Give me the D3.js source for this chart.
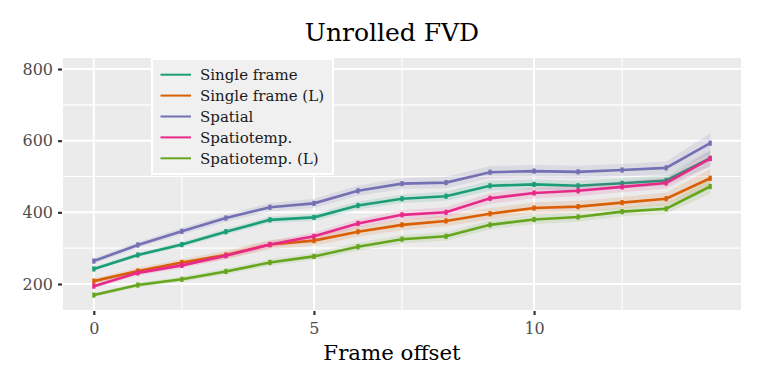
<!DOCTYPE html>
<html>
<head>
<meta charset="utf-8">
<script src="https://cdn.jsdelivr.net/npm/d3@7"></script>
<style>
  body { margin: 0; background: #fff; }
  text { font-family: "DejaVu Serif", serif; }
</style>
</head>
<body>
<div id="chart"></div>
<script>
// frame offsets
var offsets = [0,1,2,3,4,5,6,7,8,9,10,11,12,13,14];

var names = ["Single frame", "Single frame (L)", "Spatial", "Spatiotemp.", "Spatiotemp. (L)"];
var colors = ["#1b9e77", "#d95f02", "#7570b3", "#e7298a", "#66a61e"];

// mean FVD per offset
var singleFrame  = [242,281,310,346,379,386,419,438,445,474,478,474,481,489,551];
var singleFrameL = [208,236,260,281,310,321,346,365,376,396,412,416,427,438,495];
var spatial      = [264,309,347,384,414,425,460,480,483,512,515,513,518,524,593];
var spatioTemp   = [194,231,252,279,310,333,369,393,400,439,454,460,471,482,550];
var spatioTempL  = [169,197,213,235,260,277,304,325,333,365,380,387,402,410,472];

// half width of the shaded band
var errSingleFrame  = [5,6,7,8,9,10,11,12,13,14,14,14,14,15,22];
var errSingleFrameL = [7,9,10,12,13,14,14,15,15,16,16,16,16,17,26];
var errSpatial      = [7,8,9,10,12,13,14,15,16,17,17,17,17,18,28];
var errSpatioTemp   = [6,7,8,9,10,11,12,13,14,15,15,15,15,16,22];
var errSpatioTempL  = [5,6,7,8,9,10,11,12,12,13,13,13,13,14,20];

var xTicks = [0,5,10];
var xMinor = [2,7,12];
var yTicks = [200,400,600,800];
var yMinor = [300,500,700];

var means = [singleFrame, singleFrameL, spatial, spatioTemp, spatioTempL];
var errs = [errSingleFrame, errSingleFrameL, errSpatial, errSpatioTemp, errSpatioTempL];

var W = 763, H = 387,
    margin = {top: 58, right: 22, bottom: 77, left: 63},
    width = W - margin.left - margin.right,
    height = H - margin.top - margin.bottom;

var svg = d3.select("#chart").append("svg").attr("width", W).attr("height", H);
var g = svg.append("g").attr("transform", "translate(" + margin.left + "," + margin.top + ")");

var x = d3.scaleLinear().domain([-0.7, 14.7]).range([0, width]);
var y = d3.scaleLinear().domain([127.4, 830.7]).range([height, 0]);

g.append("rect").attr("width", width).attr("height", height).attr("fill", "#ebebeb");

// grid
g.selectAll(".ymin").data(yMinor).enter().append("line")
  .attr("x1", 0).attr("x2", width).attr("y1", y).attr("y2", y)
  .attr("stroke", "#fff").attr("stroke-width", 1.1);
g.selectAll(".xmin").data(xMinor).enter().append("line")
  .attr("y1", 0).attr("y2", height).attr("x1", x).attr("x2", x)
  .attr("stroke", "#fff").attr("stroke-width", 1.1);
g.selectAll(".ymaj").data(yTicks).enter().append("line")
  .attr("x1", 0).attr("x2", width).attr("y1", y).attr("y2", y)
  .attr("stroke", "#fff").attr("stroke-width", 2);
g.selectAll(".xmaj").data(xTicks).enter().append("line")
  .attr("y1", 0).attr("y2", height).attr("x1", x).attr("x2", x)
  .attr("stroke", "#fff").attr("stroke-width", 2);

// axes
var xAxis = g.append("g")
  .attr("transform", "translate(0," + (height + 1) + ")")
  .call(d3.axisBottom(x).tickValues(xTicks).tickSize(4).tickPadding(8));
var yAxis = g.append("g")
  .attr("transform", "translate(-1,0)")
  .call(d3.axisLeft(y).tickValues(yTicks).tickSize(4).tickPadding(5));
[xAxis, yAxis].forEach(function(a) {
  a.select(".domain").remove();
  a.selectAll("line").attr("stroke", "#333").attr("stroke-width", 2.2);
  a.selectAll("text").attr("fill", "#4d4d4d").style("font-size", "16px")
    .style("font-family", "DejaVu Serif");
});

// bands, lines, markers
var area = d3.area()
  .x(function(d) { return x(d.x); })
  .y0(function(d) { return y(d.y - d.e); })
  .y1(function(d) { return y(d.y + d.e); });
var line = d3.line()
  .x(function(d) { return x(d.x); })
  .y(function(d) { return y(d.y); });

means.forEach(function(m, k) {
  var pts = offsets.map(function(o, i) { return {x: o, y: m[i], e: errs[k][i]}; });
  g.append("path").datum(pts).attr("d", area)
    .attr("fill", colors[k]).attr("fill-opacity", 0.13);
  g.append("path").datum(pts).attr("d", line)
    .attr("fill", "none").attr("stroke", colors[k]).attr("stroke-width", 2.6);
  g.selectAll(".pt" + k).data(pts).enter().append("rect")
    .attr("x", function(d) { return x(d.x) - 1.6; })
    .attr("y", function(d) { return y(d.y) - 2.6; })
    .attr("width", 3.2).attr("height", 5.2)
    .attr("fill", colors[k]);
});

// legend
var leg = svg.append("g").attr("transform", "translate(152,59)");
leg.append("rect").attr("width", 181).attr("height", 115)
  .attr("fill", "#f0f0f0").attr("stroke", "#fff").attr("stroke-width", 2);
names.forEach(function(n, i) {
  var yy = 15.7 + i * 20.9;
  leg.append("line").attr("x1", 8.5).attr("x2", 39).attr("y1", yy).attr("y2", yy)
    .attr("stroke", colors[i]).attr("stroke-width", 2);
  leg.append("text").attr("x", 48).attr("y", yy + 5.2)
    .style("font-size", "15px").attr("fill", "#1a1a1a").text(n);
});

// titles
svg.append("text").attr("x", 392).attr("y", 41)
  .attr("text-anchor", "middle").style("font-size", "25px").attr("fill", "#000")
  .text("Unrolled FVD");
svg.append("text").attr("x", 392).attr("y", 360)
  .attr("text-anchor", "middle").style("font-size", "21.3px").attr("fill", "#000")
  .text("Frame offset");
</script>
</body>
</html>
